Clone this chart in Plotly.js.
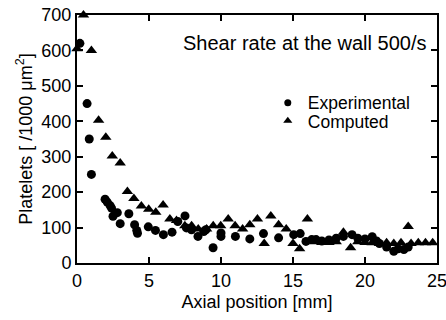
<!DOCTYPE html>
<html>
<head>
<meta charset="utf-8">
<script src="https://cdn.plot.ly/plotly-3.0.1.min.js"></script>
<style>html,body{margin:0;padding:0;background:#fff;}#chart{width:446px;height:320px;}</style>
</head>
<body>
<div id="chart"></div>
<script>
// Experimental (circles)
var expX = [0.2,0.7,0.85,1.0,1.95,2.1,2.3,2.4,2.5,2.8,3.0,3.6,4.0,4.15,4.2,4.95,5.45,6.0,6.6,7.0,7.5,7.6,7.95,8.4,8.8,8.95,9.45,10.0,10.0,11.0,12.0,12.95,14.0,15.05,15.5,15.9,16.3,16.6,17.0,17.5,18.0,18.5,19.1,19.5,20.0,20.5,20.8,21.0,21.5,22.0,22.3,22.7,23.0];
var expY = [620,450,350,250,180,172,162,155,132,142,111,139,108,92,84,102,92,80,87,117,133,99,94,75,89,94,43,85,75,75,68,83,71,80,83,61,66,66,62,65,70,75,80,70,68,74,62,55,45,33,40,38,45];
// Computed (triangles)
var compX = [0.0,0.45,1.0,1.5,2.0,2.45,3.0,3.5,3.95,4.47,4.98,5.47,5.98,6.45,6.91,7.49,7.96,8.42,9.0,9.46,9.98,10.5,10.98,11.5,12.0,12.53,13.0,13.46,14.0,14.53,15.0,15.46,16.0,16.5,17.0,17.5,18.0,18.5,19.0,19.5,20.0,20.5,21.0,21.5,22.0,22.5,23.0,23.2,23.7,24.2,24.7];
var compY = [605,700,600,403,355,302,282,202,182,161,152,143,164,124,120,105,105,96,96,105,105,124,105,96,108,124,55,133,108,96,55,40,124,60,58,58,60,87,43,60,58,57,55,57,55,57,103,55,57,57,57];
var xTicks = [0,5,10,15,20,25];
var yTicks = [0,100,200,300,400,500,600,700];
var seriesNames = ['Experimental', 'Computed'];

var fam = 'Liberation Sans, Arial, sans-serif';
function f(s) { return {family: fam, size: s, color: '#000'}; }
var data = [
  {x: expX, y: expY, mode: 'markers', type: 'scatter', name: seriesNames[0], showlegend: false,
   marker: {symbol: 'circle', size: 9, color: '#000'}, cliponaxis: false},
  {x: compX, y: compY, mode: 'markers', type: 'scatter', name: seriesNames[1], showlegend: false,
   marker: {symbol: 'triangle-up', size: 10, color: '#000'}, cliponaxis: false},
  {x: [null], y: [null], mode: 'markers', type: 'scatter', name: seriesNames[0], legend: 'legend',
   marker: {symbol: 'circle', size: 7, color: '#000'}},
  {x: [null], y: [null], mode: 'markers', type: 'scatter', name: seriesNames[1], legend: 'legend2',
   marker: {symbol: 'triangle-up', size: 8, color: '#000'}}
];
var legBase = {xanchor: 'left', yanchor: 'middle', bgcolor: 'rgba(0,0,0,0)', font: f(17.5), borderwidth: 0};
var layout = {
  width: 446, height: 320,
  margin: {l: 77, r: 9, t: 15, b: 57},
  paper_bgcolor: '#fff', plot_bgcolor: '#fff',
  font: f(18),
  showlegend: true,
  legend: Object.assign({x: 0.53, y: 0.646}, legBase),
  legend2: Object.assign({x: 0.53, y: 0.573}, legBase),
  xaxis: {range: [0, 25], tickvals: xTicks, ticktext: xTicks.map(String),
          ticks: 'inside', ticklen: 6, tickwidth: 2, tickcolor: '#000',
          showline: true, linewidth: 2, linecolor: '#000', mirror: 'ticks',
          showgrid: false, zeroline: false, tickfont: f(18), ticklabeloverflow: 'allow',
          title: {text: 'Axial position [mm]', font: f(18), standoff: 6}},
  yaxis: {range: [0, 700], tickvals: yTicks, ticktext: yTicks.map(String),
          ticks: 'inside', ticklen: 6, tickwidth: 2, tickcolor: '#000',
          showline: true, linewidth: 2, linecolor: '#000', mirror: 'ticks',
          showgrid: false, zeroline: false, tickfont: f(18), ticklabeloverflow: 'allow',
          title: {text: 'Platelets [ /1000 μm<sup>2</sup>]', font: f(18), standoff: 4}},
  annotations: [
    {text: 'Shear rate at the wall 500/s', xref: 'paper', yref: 'paper', x: 0.975, y: 0.887,
     xanchor: 'right', yanchor: 'middle', showarrow: false, font: f(20)}
  ]
};
Plotly.newPlot('chart', data, layout, {displayModeBar: false, staticPlot: true});
</script>
</body>
</html>
